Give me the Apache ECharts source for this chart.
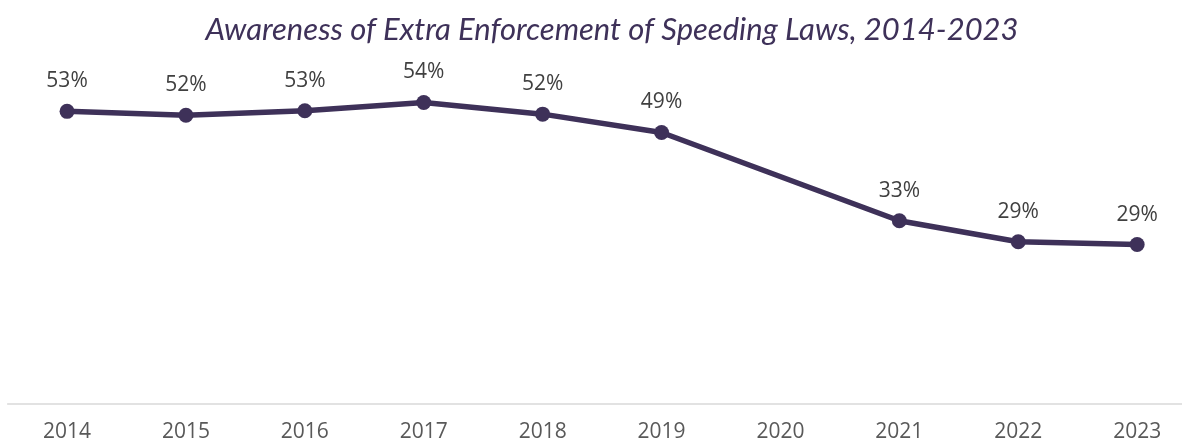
<!DOCTYPE html>
<html>
<head>
<meta charset="utf-8">
<script src="https://cdn.jsdelivr.net/npm/echarts@6/dist/echarts.min.js"></script>
<style>
    html, body { margin: 0; padding: 0; background: #fff; }
    #chart { width: 1182px; height: 444px; }
</style>
</head>
<body>
<div id="chart"></div>
<script>
// years and awareness share (%), 2020 had no survey
const years = ["2014", "2015", "2016", "2017", "2018", "2019", "2020", "2021", "2022", "2023"]
const awareness = [52.6, 51.9, 52.7, 54.2, 52.1, 48.8, null, 32.9, 29.1, 28.6]

const purple = "#3e3159"

let myChart = echarts.init(document.getElementById("chart"))
let option = {
    animation: false,
    title: {
        text: "Awareness of Extra Enforcement of Speeding Laws, 2014-2023",
        left: 607,
        top: 9,
        textAlign: "center",
        textStyle: {
            fontFamily: "Lato",
            fontStyle: "italic",
            fontWeight: "normal",
            fontSize: 31,
            color: purple
        }
    },
    grid: {
        left: 7.6,
        right: -14.6,
        top: 70.3,
        bottom: 40.7,
        containLabel: false,
        outerBoundsMode: "none"
    },
    xAxis: {
        type: "category",
        boundaryGap: true,
        data: years,
        axisLine: {
            lineStyle: {
                color: "#d9d9d9",
                width: 1.5
            }
        },
        axisTick: { show: false },
        axisLabel: {
            margin: 18,
            fontFamily: "Open Sans",
            fontSize: 21,
            color: "#595959"
        }
    },
    yAxis: {
        type: "value",
        min: 0,
        max: 60,
        show: false,
        splitLine: { show: false }
    },
    series: [
        {
            type: "line",
            data: awareness,
            connectNulls: true,
            symbol: "circle",
            symbolSize: 15,
            lineStyle: {
                color: purple,
                width: 5.5
            },
            itemStyle: {
                color: purple
            },
            label: {
                show: true,
                position: "top",
                distance: 12,
                fontFamily: "Open Sans",
                fontSize: 21,
                color: "#404040",
                formatter: p => Math.round(p.value) + "%"
            }
        }
    ]
}
myChart.setOption(option)
</script>
</body>
</html>
